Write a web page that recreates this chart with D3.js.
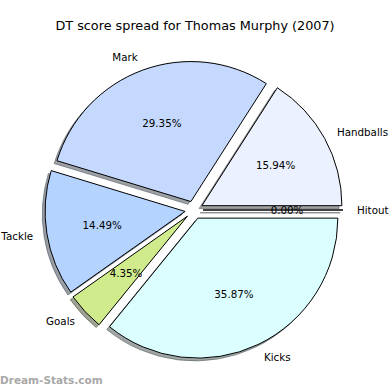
<!DOCTYPE html>
<html>
<head>
<meta charset="utf-8">
<script src="https://cdn.jsdelivr.net/npm/d3@7"></script>
<style>
  html, body { margin: 0; padding: 0; background: #fff; }
  svg { display: block; }
  text { font-family: "DejaVu Sans", sans-serif; }
</style>
</head>
<body>
<div id="chart"></div>
<script>
// Data (counter-clockwise from 3 o'clock, matplotlib style)
const categories = ["Hitout", "Handballs", "Mark", "Tackle", "Goals", "Kicks"];
const values = [0, 44, 81, 40, 12, 99];
const colors = ["#e0e0ff", "#ebf1ff", "#c5d9ff", "#b4d4ff", "#d0eb8c", "#dbffff"];
const title = "DT score spread for Thomas Murphy (2007)";
const watermark = "Dream-Stats.com";

const W = 390, H = 390;
const cx = 194, cy = 210, R = 140;
const explode = 9;
const shadowOff = 2.8;

const svg = d3.select("#chart").append("svg").attr("width", W).attr("height", H);

svg.append("text")
  .attr("x", 195).attr("y", 30)
  .attr("text-anchor", "middle")
  .attr("font-size", 12.8)
  .attr("fill", "#000")
  .text(title);

const total = d3.sum(values);
const pie = d3.pie().sort(null).value(d => d.v)
  .startAngle(Math.PI / 2).endAngle(Math.PI / 2 - 2 * Math.PI);
const data = categories.map((c, i) => ({ c, v: values[i], col: colors[i] }));
const arcs = pie(data);
const arc = d3.arc().innerRadius(0).outerRadius(R);

const g = svg.append("g").attr("transform", `translate(${cx},${cy})`);

arcs.forEach(a => {
  const mid = (a.startAngle + a.endAngle) / 2;
  const ux = Math.sin(mid), uy = -Math.cos(mid);
  const ox = ux * explode, oy = uy * explode;
  const dark = d3.rgb(a.data.col);
  const sc = d3.rgb(dark.r * 0.3, dark.g * 0.3, dark.b * 0.3);
  // shadow
  g.append("path")
    .attr("d", arc(a))
    .attr("transform", `translate(${ox - shadowOff},${oy + shadowOff})`)
    .attr("fill", sc).attr("fill-opacity", 0.5)
    .attr("stroke", sc).attr("stroke-opacity", 0.5).attr("stroke-width", 1);
  // wedge
  g.append("path")
    .attr("d", arc(a))
    .attr("transform", `translate(${ox},${oy})`)
    .attr("fill", a.data.col)
    .attr("stroke", "#000").attr("stroke-width", 1)
    .attr("stroke-linejoin", "miter");
});

arcs.forEach(a => {
  const mid = (a.startAngle + a.endAngle) / 2;
  const ux = Math.sin(mid), uy = -Math.cos(mid);
  const ox = ux * explode, oy = uy * explode;
  // percentage
  g.append("text")
    .attr("x", ox + ux * R * 0.6).attr("y", oy + uy * R * 0.6)
    .attr("text-anchor", "middle").attr("dominant-baseline", "central")
    .attr("font-size", 10.3).attr("fill", "#000")
    .text((a.data.v / total * 100).toFixed(2) + "%");
  // label
  const lx = ox + ux * R * 1.1, ly = oy + uy * R * 1.1;
  g.append("text")
    .attr("x", lx).attr("y", ly)
    .attr("text-anchor", lx > 0 ? "start" : "end").attr("dominant-baseline", "central")
    .attr("font-size", 10.3).attr("fill", "#000")
    .text(a.data.c);
});

svg.append("text")
  .attr("x", 0).attr("y", 384)
  .attr("font-size", 10.5).attr("font-weight", "bold")
  .attr("fill", "#a8a8a8")
  .text(watermark);
</script>
</body>
</html>
